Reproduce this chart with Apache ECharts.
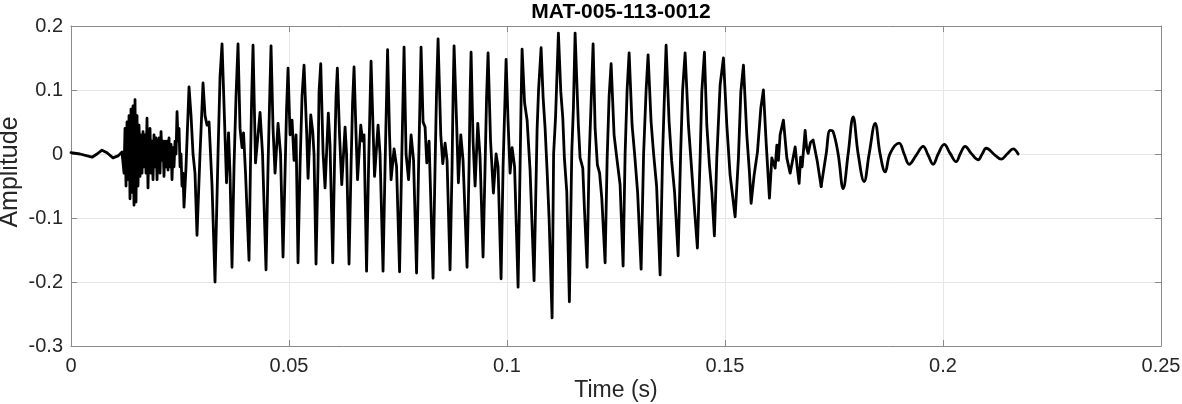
<!DOCTYPE html>
<html>
<head>
<meta charset="utf-8">
<script src="https://cdn.jsdelivr.net/npm/echarts@6/dist/echarts.min.js"></script>
<style>
  html, body { margin: 0; padding: 0; background: #fff; }
  #chart { width: 1182px; height: 404px; }
</style>
</head>
<body>
<div id="chart"></div>
<script>
// ---- Data: [time in ms, amplitude] ----
const titleText = 'MAT-005-113-0012';
const xAxisName = 'Time (s)';
const yAxisName = 'Amplitude';
const xTickLabels = ['0', '0.05', '0.1', '0.15', '0.2', '0.25'];
const yTickLabels = ['-0.3', '-0.2', '-0.1', '0', '0.1', '0.2'];

// quiet lead-in and noisy onset burst
const onsetPoints = [
  [0, 0.002], [2.06, 0.0], [4.82, -0.005], [5.96, 0.0], [7.11, 0.006], [8.26, 0.002],
  [9.63, -0.006], [10.78, -0.003], [11.70, 0.003], [11.93, 0.0],
  [12.16, -0.03], [12.39, 0.04], [12.62, -0.05], [12.85, 0.05], [13.08, -0.04], [13.31, 0.06],
  [13.53, -0.07], [13.76, 0.07], [13.99, -0.06], [14.22, 0.075], [14.45, -0.08], [14.68, 0.085],
  [14.91, -0.075], [15.14, 0.06], [15.37, -0.05], [15.60, 0.045], [15.83, -0.035], [16.06, 0.03],
  [16.29, -0.03], [16.52, 0.035], [16.75, -0.02], [16.98, 0.03], [17.21, -0.03], [17.43, 0.056],
  [17.66, -0.053], [17.89, 0.02], [18.12, 0.04], [18.35, -0.03], [18.58, 0.02], [18.81, -0.04],
  [19.04, 0.03], [19.27, -0.02], [19.50, 0.025], [19.73, -0.04], [19.96, 0.01], [20.19, 0.025],
  [20.42, -0.03], [20.65, 0.035], [20.88, -0.01], [21.10, 0.02], [21.33, -0.035], [21.56, 0.02],
  [21.79, -0.02], [22.02, 0.02], [22.25, -0.025], [22.48, 0.025], [22.71, -0.02], [22.94, 0.015],
  [23.17, -0.04], [23.40, 0.01], [23.63, -0.02], [23.86, 0.02], [24.09, 0.0], [24.32, 0.066],
  [24.55, 0.02], [24.78, 0.04], [25.01, -0.02], [25.23, 0.0], [25.46, -0.05], [25.69, -0.03],
  [25.92, -0.083]
];

// main voiced section: cycle peaks, troughs and inner wiggles
const bodyPoints = [
  [26.38, -0.02], [27.07, 0.105], [27.53, 0.06], [27.99, 0.0], [28.44, -0.03], [28.90, -0.127],
  [29.59, 0.0], [30.28, 0.111], [30.74, 0.06], [31.20, 0.045], [31.66, 0.05], [32.35, -0.05],
  [33.03, -0.2], [33.72, 0.0], [34.18, 0.12], [34.64, 0.172], [35.21, 0.053], [35.67, -0.045],
  [36.13, 0.033], [36.47, -0.03], [36.93, -0.177], [37.39, -0.02], [37.85, 0.09], [38.31, 0.172],
  [38.77, 0.04], [39.23, 0.01], [39.57, 0.033], [40.03, -0.03], [40.83, -0.166], [41.18, -0.01],
  [41.41, 0.08], [41.75, 0.170], [42.32, -0.014], [43.36, 0.065], [43.93, 0.0], [44.73, -0.181],
  [45.19, -0.02], [45.54, 0.08], [45.88, 0.169], [46.34, 0.04], [46.80, -0.03], [47.49, 0.048],
  [48.06, 0.0], [48.63, -0.161], [49.09, -0.03], [49.44, 0.07], [49.78, 0.134], [50.24, 0.03],
  [50.70, 0.053], [51.16, -0.01], [51.62, 0.03], [52.07, -0.170], [52.53, -0.02], [52.99, 0.09],
  [53.45, 0.139], [54.07, 0.03], [54.37, -0.038], [54.99, 0.061], [55.45, 0.034], [55.74, 0.0],
  [56.20, -0.172], [56.66, -0.017], [56.89, 0.097], [57.28, 0.141], [57.81, 0.003], [58.27, -0.053],
  [59.02, 0.064], [59.41, 0.014], [60.03, -0.170], [60.45, -0.01], [60.79, 0.09], [61.09, 0.134],
  [61.59, 0.03], [62.10, -0.048], [62.86, 0.042], [63.20, 0.0], [63.77, -0.172], [64.23, -0.02],
  [64.58, 0.08], [64.92, 0.136], [65.38, 0.03], [65.72, -0.04], [66.46, 0.045], [66.87, 0.02],
  [67.21, 0.03], [67.79, -0.183], [68.25, -0.02], [68.59, 0.08], [68.82, 0.145], [69.28, 0.04],
  [69.62, -0.035], [70.43, 0.045], [70.88, 0.0], [71.57, -0.183], [72.03, -0.02], [72.38, 0.09],
  [72.61, 0.163], [73.06, 0.03], [73.41, -0.04], [74.10, 0.008], [74.67, -0.02], [75.36, -0.184],
  [75.82, -0.02], [76.16, 0.09], [76.39, 0.167], [76.85, 0.0], [77.42, -0.04], [78.00, 0.03],
  [78.57, -0.01], [79.26, -0.186], [79.72, -0.02], [80.06, 0.09], [80.29, 0.167], [80.75, 0.05],
  [81.21, 0.042], [81.60, -0.014], [82.13, 0.02], [83.04, -0.194], [83.50, -0.02], [83.85, 0.1],
  [84.19, 0.180], [84.81, 0.03], [85.27, -0.015], [85.80, 0.017], [86.25, -0.01], [86.94, -0.181],
  [87.40, -0.02], [87.63, 0.09], [87.86, 0.169], [88.48, 0.04], [88.85, -0.045], [89.40, 0.03],
  [89.92, -0.01], [90.84, -0.177], [91.30, -0.02], [91.53, 0.09], [91.76, 0.159], [92.22, 0.02],
  [92.68, -0.05], [93.30, 0.048], [93.82, -0.005], [94.51, -0.161], [94.97, -0.02], [95.32, 0.09],
  [95.66, 0.158], [96.23, 0.02], [96.88, -0.061], [97.50, 0.0], [97.95, -0.02], [98.64, -0.195],
  [99.10, -0.02], [99.56, 0.09], [99.79, 0.148], [100.25, 0.05], [100.71, -0.03], [101.17, 0.01],
  [101.74, -0.02], [102.54, -0.208], [103.00, -0.02], [103.23, 0.08], [103.46, 0.164], [104.03, 0.08],
  [104.61, 0.053], [105.29, -0.025], [106.21, -0.198], [106.90, 0.038], [107.24, 0.1], [107.82, 0.166],
  [108.28, 0.089], [108.74, 0.04], [109.19, -0.025], [109.65, -0.1], [110.34, -0.256], [110.69, 0.0],
  [111.14, 0.058], [111.79, 0.189], [112.34, 0.097], [112.80, 0.056], [113.16, -0.006], [113.71, -0.059],
  [114.31, -0.231], [114.86, 0.003], [115.23, 0.072], [115.62, 0.189], [116.37, 0.045], [116.76, -0.006],
  [117.38, -0.022], [117.75, -0.084], [118.37, -0.177], [118.83, -0.01], [119.29, 0.08], [119.75, 0.172],
  [120.21, 0.04], [120.73, -0.017], [121.24, -0.03], [121.74, -0.069], [122.50, -0.170], [122.96, -0.01],
  [123.42, 0.09], [123.88, 0.141], [124.56, 0.03], [125.18, -0.006], [125.94, -0.048], [126.63, -0.175],
  [127.09, 0.0], [127.55, 0.1], [128.01, 0.158], [128.69, 0.045], [129.27, 0.0], [129.96, -0.06],
  [130.76, -0.180], [131.33, 0.0], [131.91, 0.1], [132.36, 0.155], [133.05, 0.05], [133.63, 0.0],
  [134.31, -0.05], [135.12, -0.189], [135.69, 0.0], [136.15, 0.1], [136.49, 0.170], [137.18, 0.05],
  [137.75, -0.01], [138.44, -0.06], [139.25, -0.159], [139.82, 0.0], [140.28, 0.1], [140.85, 0.158],
  [141.61, 0.045], [142.16, -0.006], [142.76, -0.064], [143.67, -0.147], [144.29, -0.006], [144.68, 0.097],
  [145.28, 0.159], [145.83, 0.045], [146.43, -0.017], [146.98, -0.059], [147.57, -0.128], [148.12, -0.006],
  [148.88, 0.108], [149.64, 0.150], [150.42, 0.045], [151.17, -0.033], [152.32, -0.098], [153.08, -0.006],
  [153.63, 0.097], [154.23, 0.139], [155.00, 0.03], [155.60, -0.028], [155.99, -0.077], [156.68, -0.033],
  [157.44, 0.003], [158.22, 0.072], [158.81, 0.100], [159.43, 0.019], [160.19, -0.069], [160.74, -0.006],
  [161.50, -0.022], [161.89, 0.014], [162.25, -0.01], [162.64, 0.03], [163.40, 0.053], [164.18, -0.006],
  [164.94, -0.03], [166.09, 0.011], [166.55, -0.02], [167.00, -0.046], [167.35, -0.005], [167.69, -0.02],
  [168.38, 0.037], [168.72, 0.01], [169.07, 0.001], [169.60, 0.018], [170.21, 0.022], [171.13, -0.01],
  [172.05, -0.051]
];

// decaying, smoother tail
const tailPoints = [
  [172.05, -0.051], [173.20, 0.0], [174.11, 0.037], [174.80, 0.035], [175.95, 0.0], [177.10, -0.054],
  [178.24, 0.0], [179.39, 0.058], [180.54, 0.0], [181.91, -0.043], [183.06, 0.0], [184.44, 0.048],
  [185.58, 0.0], [186.73, -0.028], [187.88, 0.001], [189.94, 0.017], [191.09, 0.0], [192.24, -0.016],
  [193.84, -0.002], [195.45, 0.012], [196.60, -0.002], [197.74, -0.016], [198.89, 0.0], [200.27, 0.015],
  [201.64, 0.001], [203.02, -0.012], [203.94, 0.0], [205.08, 0.012], [206.46, 0.001], [208.07, -0.009],
  [208.98, 0.0], [209.90, 0.009], [211.97, -0.002], [213.34, -0.008], [214.72, 0.0], [216.09, 0.008],
  [217.24, 0.0]
];

// ---- Chart ----
const toSeconds = pts => pts.map(p => [p[0] / 1000, p[1]]);
const mainWave = toSeconds(onsetPoints.concat(bodyPoints));
const tailWave = toSeconds(tailPoints);

const FONT = '"Liberation Sans", Arial, sans-serif';
const AXIS_COLOR = '#8a8a8a';
const TEXT_COLOR = '#262626';
const GRID_COLOR = '#e6e6e6';

const chart = echarts.init(document.getElementById('chart'), null, { renderer: 'canvas' });

const xLabel = v => xTickLabels[Math.round(v / 0.05)] ?? '';
const yLabel = v => yTickLabels[Math.round((v + 0.3) / 0.1)] ?? '';

const lineStyle = { color: '#000', width: 2.8, join: 'round', cap: 'round' };

chart.setOption({
  animation: false,
  backgroundColor: '#fff',
  title: {
    text: titleText,
    left: 616,
    top: -3,
    textAlign: 'center',
    textStyle: { fontFamily: FONT, fontSize: 21, fontWeight: 'bold', color: '#000' }
  },
  grid: { left: 71, right: 21, top: 26, bottom: 58, containLabel: false, outerBoundsMode: 'none' },
  xAxis: [
    {
      type: 'value', min: 0, max: 0.25, interval: 0.05,
      name: xAxisName, nameLocation: 'middle', nameGap: 33, nameMoveOverlap: false,
      nameTextStyle: { fontFamily: FONT, fontSize: 23, color: TEXT_COLOR },
      axisLine: { show: true, onZero: false, lineStyle: { color: AXIS_COLOR, width: 1 } },
      axisTick: { show: true, inside: true, length: 6, lineStyle: { color: AXIS_COLOR } },
      axisLabel: { formatter: xLabel, margin: 10, fontFamily: FONT, fontSize: 20, color: TEXT_COLOR },
      splitLine: { show: true, lineStyle: { color: GRID_COLOR, width: 1 } }
    },
    {
      type: 'value', position: 'top', min: 0, max: 0.25, interval: 0.05,
      axisLine: { show: true, onZero: false, lineStyle: { color: AXIS_COLOR, width: 1 } },
      axisTick: { show: true, inside: true, length: 6, lineStyle: { color: AXIS_COLOR } },
      axisLabel: { show: false }, splitLine: { show: false }
    }
  ],
  yAxis: [
    {
      type: 'value', min: -0.3, max: 0.2, interval: 0.1,
      name: yAxisName, nameLocation: 'middle', nameGap: 48, nameRotate: 90, nameMoveOverlap: false,
      nameTextStyle: { fontFamily: FONT, fontSize: 25, color: TEXT_COLOR, padding: [0, 0, 0, 28] },
      axisLine: { show: true, onZero: false, lineStyle: { color: AXIS_COLOR, width: 1 } },
      axisTick: { show: true, inside: true, length: 6, lineStyle: { color: AXIS_COLOR } },
      axisLabel: { formatter: yLabel, margin: 8, fontFamily: FONT, fontSize: 20, color: TEXT_COLOR },
      splitLine: { show: true, lineStyle: { color: GRID_COLOR, width: 1 } }
    },
    {
      type: 'value', position: 'right', min: -0.3, max: 0.2, interval: 0.1,
      axisLine: { show: true, onZero: false, lineStyle: { color: AXIS_COLOR, width: 1 } },
      axisTick: { show: true, inside: true, length: 6, lineStyle: { color: AXIS_COLOR } },
      axisLabel: { show: false }, splitLine: { show: false }
    }
  ],
  series: [
    {
      type: 'line', name: 'signal',
      xAxisIndex: 0, yAxisIndex: 0,
      data: mainWave,
      symbol: 'none', showSymbol: false, smooth: false, sampling: null,
      lineStyle: lineStyle, z: 5
    },
    {
      type: 'line', name: 'signal tail',
      xAxisIndex: 0, yAxisIndex: 0,
      data: tailWave,
      symbol: 'none', showSymbol: false, smooth: 0.4, sampling: null,
      lineStyle: lineStyle, z: 5
    }
  ]
});
</script>
</body>
</html>
